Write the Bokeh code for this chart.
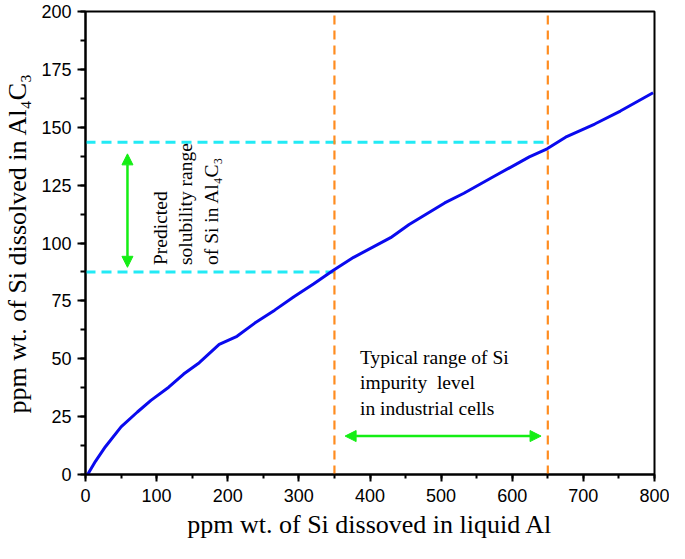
import math
from bokeh.plotting import figure
from bokeh.models import Range1d, SingleIntervalTicker, Arrow, NormalHead
from bokeh.core.properties import value
from bokeh.embed import file_html
from bokeh.resources import INLINE

# ---- data ----
si_liquid = [3, 14, 28, 50, 73, 92, 117, 138, 160, 188, 213, 238, 266, 293,
             321, 348, 377, 429, 455, 505, 532, 574, 624, 649, 675, 716, 752, 798]
si_carbide = [0, 5.7, 12, 20.6, 27, 32, 37.7, 43.4, 48.3, 56.2, 59.7, 65.4, 71,
              76.8, 82.4, 88.1, 93.8, 102.3, 108, 117.3, 121.5, 128.7, 137.2,
              140.7, 145.7, 151.4, 157, 164.9]

industrial_range = [350, 650]          # vertical dashed lines (ppm in Al)
solubility_range = [143.5, 87.5]       # horizontal dashed lines (ppm in Al4C3)
solubility_line_end = [650, 350]

v_arrow_x = 59
v_arrow_y = [138.5, 89.5]
h_arrow_y = 16.6
h_arrow_x = [365, 640.5]

label_pred = "Predicted\nsolubility range\nof Si in Al\u2084C\u2083"
label_pred_pos = (91, 90.5)
label_typ = "Typical range of Si\nimpurity\u00a0 level\nin industrial cells"
label_typ_pos = (386, 55)

x_label = "ppm wt. of Si dissoved in liquid Al"
y_label = "ppm wt. of Si dissolved in Al\u2084C\u2083"

SERIF = "Liberation Serif"
SANS = "Liberation Sans"

p = figure(width=669, height=543, output_backend="svg", toolbar_location=None,
           x_range=Range1d(0, 800), y_range=Range1d(0, 200),
           min_border_left=84, min_border_right=15, min_border_top=11,
           min_border_bottom=69)
p.grid.visible = False
p.outline_line_color = "black"
p.outline_line_width = 2
p.background_fill_color = "white"
p.border_fill_color = "white"

p.xaxis.ticker = SingleIntervalTicker(interval=100, num_minor_ticks=2)
p.yaxis.ticker = SingleIntervalTicker(interval=25, num_minor_ticks=2)

for ax in (p.xaxis[0], p.yaxis[0]):
    ax.axis_line_width = 2
    ax.axis_line_color = "black"
    ax.major_tick_line_width = 2
    ax.minor_tick_line_width = 2
    ax.major_tick_line_color = "black"
    ax.minor_tick_line_color = "black"
    ax.major_tick_in = 0
    ax.minor_tick_in = 0
    ax.major_label_text_font = SANS
    ax.major_label_text_font_size = "18px"
    ax.major_label_text_color = "black"
    ax.axis_label_text_font = SERIF
    ax.axis_label_text_font_size = "26px"
    ax.axis_label_text_font_style = "normal"
    ax.axis_label_text_color = "black"

p.xaxis.major_tick_out = 7
p.xaxis.minor_tick_out = 4
p.yaxis.major_tick_out = 8
p.yaxis.minor_tick_out = 5
p.xaxis.major_label_standoff = 7
p.yaxis.major_label_standoff = 6
p.xaxis.axis_label_standoff = 5
p.yaxis.axis_label_standoff = 6
p.xaxis.axis_label = x_label
p.yaxis.axis_label = y_label

# dashed reference lines
p.segment(x0=[0, 0], y0=solubility_range, x1=solubility_line_end,
          y1=solubility_range, line_color="#22eaf5", line_width=3,
          line_dash="10 6")
p.segment(x0=industrial_range, y0=[0, 0], x1=industrial_range,
          y1=[200, 200], line_color="#ff8c1f", line_width=2.2,
          line_dash="9 6")

# curve
p.line(si_liquid, si_carbide, line_color="#0a0aee", line_width=3)

# arrows
green = "#14ee14"
for xs, ys, xe, ye in [(v_arrow_x, v_arrow_y[0], v_arrow_x, v_arrow_y[1]),
                       (h_arrow_x[0], h_arrow_y, h_arrow_x[1], h_arrow_y)]:
    p.add_layout(Arrow(x_start=xs, y_start=ys, x_end=xe, y_end=ye,
                       line_color=green, line_width=2.5,
                       start=NormalHead(size=11, fill_color=green, line_color=green),
                       end=NormalHead(size=11, fill_color=green, line_color=green)))

# texts
p.text(x=[label_pred_pos[0]], y=[label_pred_pos[1]], text=[label_pred],
       angle=math.pi / 2, text_align="left", text_baseline="top",
       text_font=value(SERIF), text_font_size=value("19.5px"),
       text_color="black", text_line_height=1.2)
p.text(x=[label_typ_pos[0]], y=[label_typ_pos[1]], text=[label_typ],
       text_align="left", text_baseline="top",
       text_font=value(SERIF), text_font_size=value("19.5px"),
       text_color="black", text_line_height=1.2)

open("out.html", "w").write(file_html(p, INLINE))
